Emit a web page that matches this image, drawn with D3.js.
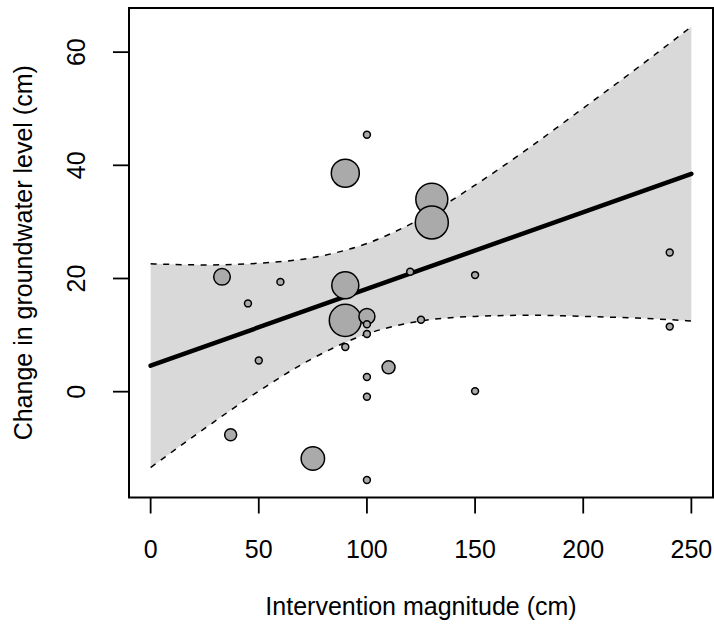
<!DOCTYPE html>
<html>
<head>
<meta charset="utf-8">
<script src="https://cdn.jsdelivr.net/npm/d3@7"></script>
<style>
  body { margin: 0; background: #fff; }
  text { font-family: "Liberation Sans", Arial, sans-serif; }
</style>
</head>
<body>
<div id="chart"></div>
<script>

// studies: intervention magnitude (cm), change in groundwater level (cm), weight
var magnitude = [33, 60, 45, 90, 90, 100, 100, 100, 90, 50, 110, 100, 100, 37, 75, 100,
                 120, 100, 90, 130, 130, 240, 150, 125, 240, 150];
var change    = [20.3, 19.4, 15.6, 18.8, 12.6, 13.3, 11.9, 10.2, 7.9, 5.5, 4.3, 2.6, -0.9, -7.6, -11.8, -15.6,
                 21.2, 45.4, 38.6, 34.0, 29.9, 24.6, 20.6, 12.7, 11.5, 0.1];
var weight    = [69, 12, 12, 182, 256, 64, 12, 12, 12, 12, 42, 12, 12, 36, 137, 12,
                 12, 12, 196, 256, 272, 12, 12, 12, 12, 12];

// fitted meta-regression line
var fitX = [0, 250];
var fitY = [4.6, 38.5];

// confidence band
var bandX     = [0, 25, 50, 75, 100, 125, 150, 175, 200, 225, 250];
var bandLower = [-13.4, -6.5, 0.1, 5.9, 10.2, 12.5, 13.3, 13.5, 13.3, 13.0, 12.5];
var bandUpper = [22.6, 22.4, 22.7, 23.7, 26.2, 30.6, 36.5, 43.1, 50.1, 57.2, 64.5];

var xTicks = [0, 50, 100, 150, 200, 250];
var yTicks = [0, 20, 40, 60];

var width = 714, height = 624;
var box = {left: 129, right: 713, top: 8, bottom: 497.5};

var svg = d3.select("#chart")
  .append("svg")
  .attr("width", width)
  .attr("height", height);

var x = d3.scaleLinear()
  .domain([-10, 260])
  .range([box.left, box.right]);

var y = d3.scaleLinear()
  .domain([-18.7, 67.8])
  .range([box.bottom, box.top]);

var r = d3.scaleSqrt()
  .domain([0, d3.max(weight)])
  .range([0, 16.5]);

var band = bandX.map(function(d, i) {
  return {x: d, lo: bandLower[i], hi: bandUpper[i]};
});

///////////////// confidence band /////////////////
svg.append("path")
  .datum(band)
  .attr("fill", "#d9d9d9")
  .attr("d", d3.area()
    .x(function(d) { return x(d.x); })
    .y0(function(d) { return y(d.lo); })
    .y1(function(d) { return y(d.hi); })
    .curve(d3.curveMonotoneX));

["lo", "hi"].forEach(function(k) {
  svg.append("path")
    .datum(band)
    .attr("fill", "none")
    .attr("stroke", "#000")
    .attr("stroke-width", 1.5)
    .attr("stroke-dasharray", "6,6.5")
    .attr("d", d3.line()
      .x(function(d) { return x(d.x); })
      .y(function(d) { return y(d[k]); })
      .curve(d3.curveMonotoneX));
});

// regression line
svg.append("path")
  .datum(fitX.map(function(d, i) { return [d, fitY[i]]; }))
  .attr("fill", "none")
  .attr("stroke", "#000")
  .attr("stroke-width", 4.5)
  .attr("stroke-linecap", "round")
  .attr("d", d3.line()
    .x(function(d) { return x(d[0]); })
    .y(function(d) { return y(d[1]); }));

///////////////// points /////////////////
var pts = magnitude.map(function(d, i) {
  return {m: d, c: change[i], w: weight[i]};
});

svg.selectAll("circle.pt")
  .data(pts)
  .enter()
  .append("circle")
  .attr("class", "pt")
  .attr("cx", function(d) { return x(d.m); })
  .attr("cy", function(d) { return y(d.c); })
  .attr("r", function(d) { return r(d.w); })
  .attr("fill", "#aaaaaa")
  .attr("stroke", "#000")
  .attr("stroke-width", 1.5);

///////////////// frame and axes /////////////////
svg.append("rect")
  .attr("x", box.left)
  .attr("y", box.top)
  .attr("width", box.right - box.left)
  .attr("height", box.bottom - box.top)
  .attr("fill", "none")
  .attr("stroke", "#000")
  .attr("stroke-width", 2);

var xAxis = svg.append("g");
xAxis.selectAll("line")
  .data(xTicks).enter().append("line")
  .attr("x1", function(d) { return x(d); })
  .attr("x2", function(d) { return x(d); })
  .attr("y1", box.bottom)
  .attr("y2", box.bottom + 16)
  .attr("stroke", "#000")
  .attr("stroke-width", 1.8);
xAxis.selectAll("text")
  .data(xTicks).enter().append("text")
  .attr("x", function(d) { return x(d); })
  .attr("y", 558)
  .attr("text-anchor", "middle")
  .style("font-size", "25px")
  .text(function(d) { return d; });

var yAxis = svg.append("g");
yAxis.selectAll("line")
  .data(yTicks).enter().append("line")
  .attr("x1", box.left - 16)
  .attr("x2", box.left)
  .attr("y1", function(d) { return y(d); })
  .attr("y2", function(d) { return y(d); })
  .attr("stroke", "#000")
  .attr("stroke-width", 1.8);
yAxis.selectAll("text")
  .data(yTicks).enter().append("text")
  .attr("transform", function(d) { return "translate(85," + y(d) + ")rotate(-90)"; })
  .attr("text-anchor", "middle")
  .style("font-size", "25px")
  .text(function(d) { return d; });

svg.append("text")
  .attr("x", (box.left + box.right) / 2)
  .attr("y", 615)
  .attr("text-anchor", "middle")
  .style("font-size", "25px")
  .text("Intervention magnitude (cm)");

svg.append("text")
  .attr("transform", "translate(32," + (box.top + box.bottom) / 2 + ")rotate(-90)")
  .attr("text-anchor", "middle")
  .style("font-size", "25px")
  .text("Change in groundwater level (cm)");

</script>
</body>
</html>
